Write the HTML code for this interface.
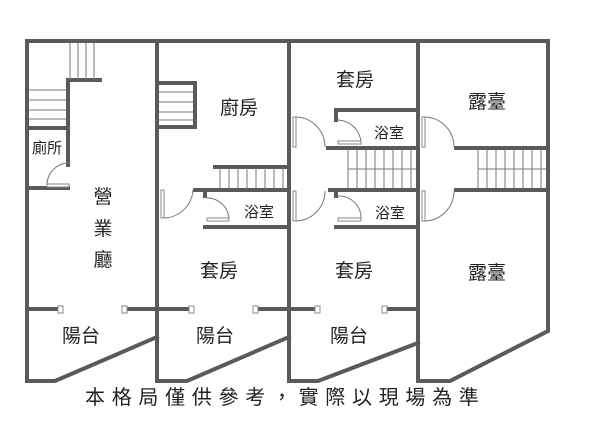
<!DOCTYPE html>
<html><head><meta charset="utf-8"><style>
body{margin:0;background:#fff;width:600px;height:433px;overflow:hidden}
text{font-family:"Liberation Sans","Noto Sans CJK TC",sans-serif;fill:#222}
</style></head><body>
<svg width="600" height="433" viewBox="0 0 600 433" xmlns="http://www.w3.org/2000/svg">
<g stroke="#5a5a5a" stroke-width="4" fill="none" stroke-linecap="square">
<path d="M548 41 H27 V381 H55 L157 337"/>
<path d="M157 41 V381 H187 L289 337"/>
<path d="M289 41 V381 H318 L418 343"/>
<path d="M418 41 V381 H450 L548 331 V41"/>
<path d="M27 309 H59 M126 309 H190 M258 309 H318 M385 309 H418"/>
<path d="M69 80 H100 M68 80 V165 M27 128 H68 M27 188 H68"/>
<path d="M157 83 H195 V127 H157"/>
<path d="M215 167 H289 M195 190 H289 M205 190 V196 M205 227 H289"/>
<path d="M336 110 H418 M336 110 V120 M328 148 H418 M330 190 H418 M336 190 V196 M336 227 H418"/>
<path d="M456 148 H548 M456 190 H548"/>
</g>
<g stroke="#777" stroke-width="1" fill="none">
<path d="M70 43 V80 M78 43 V80 M86 43 V80 M94 43 V80"/>
<path d="M29 90 H66 M29 100 H66 M29 110 H66 M29 119 H66"/>
<path d="M159 92 H193 M159 102 H193 M159 112 H193 M159 120 H193"/>
<path d="M220 168 V189 M229 168 V189 M238 168 V189 M247 168 V189 M256 168 V189 M265 168 V189 M274 168 V189 M283 168 V189"/>
<path d="M348 150 V188 M357 150 V188 M366 150 V188 M375 150 V188 M384 150 V188 M393 150 V188 M402 150 V188 M411 150 V188 M348 169 H416"/>
<path d="M478 150 V188 M487 150 V188 M496 150 V188 M505 150 V188 M514 150 V188 M523 150 V188 M532 150 V188 M541 150 V188 M478 169 H546"/>
<path d="M69 163 A22 22 0 0 0 47 185"/>
<path d="M193 190 A30 30 0 0 1 163 218"/>
<path d="M207 198 A22 22 0 0 1 229 220"/>
<path d="M295 117 A30 30 0 0 1 325 147"/>
<path d="M338 120 A24 24 0 0 1 361 143"/>
<path d="M295 221 A30 30 0 0 0 325 191"/>
<path d="M338 196 A22 22 0 0 1 361 219"/>
<path d="M424 117 A30 30 0 0 1 454 147"/>
<path d="M424 221 A30 30 0 0 0 454 191"/>
</g>
<g stroke="#888" stroke-width="1" fill="#fff">
<rect x="58" y="306" width="5" height="7"/><rect x="122" y="306" width="5" height="7"/>
<rect x="189" y="306" width="5" height="7"/><rect x="253" y="306" width="5" height="7"/>
<rect x="315" y="306" width="5" height="7"/><rect x="382" y="306" width="5" height="7"/>
<rect x="47" y="184" width="22" height="3"/><rect x="161" y="190" width="3" height="28"/>
<rect x="207" y="218" width="22" height="3"/><rect x="293" y="117" width="3" height="30"/>
<rect x="338" y="141" width="23" height="3"/><rect x="293" y="191" width="3" height="30"/>
<rect x="338" y="218" width="23" height="3"/><rect x="422" y="117" width="3" height="30"/>
<rect x="422" y="191" width="3" height="30"/>
</g>
<g font-size="19" text-anchor="middle">
<text x="239" y="114">廚房</text>
<text x="355" y="86">套房</text>
<text x="487" y="108">露臺</text>
<text x="103" y="203">營</text>
<text x="103" y="235">業</text>
<text x="103" y="266">廳</text>
<text x="219" y="277">套房</text>
<text x="354" y="277">套房</text>
<text x="487" y="279">露臺</text>
<text x="81" y="342">陽台</text>
<text x="215" y="342">陽台</text>
<text x="349" y="342">陽台</text>
</g>
<g font-size="15" text-anchor="middle">
<text x="47" y="153">廁所</text>
<text x="259" y="217">浴室</text>
<text x="389" y="138">浴室</text>
<text x="390" y="218">浴室</text>
</g>
<text x="85" y="404" font-size="20" letter-spacing="6.7">本格局僅供參考，實際以現場為準</text>
</svg>
</body></html>
